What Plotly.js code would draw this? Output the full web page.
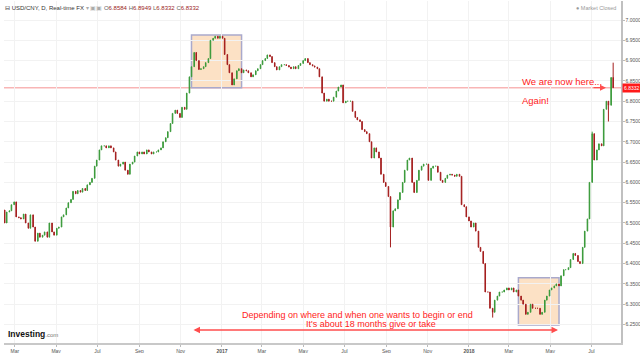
<!DOCTYPE html>
<html><head><meta charset="utf-8">
<script src="https://cdn.plot.ly/plotly-3.0.1.min.js"></script>
<style>html,body{margin:0;padding:0;background:#fff;} #chart{width:640px;height:353px;}</style>
</head><body><div id="chart"></div>
<script>
// Twice-weekly (Mon, Thu) closes of USD/CNY, starting Mon 2016-02-15
const firstWeek = '2016-02-15';
const firstOpen = 6.532;
const closes = [
  6.500, 6.527, 6.530, 6.545, 6.552, 6.515, 6.513, 6.510, 6.522, 6.500,
  6.487, 6.520, 6.490, 6.455, 6.475, 6.465, 6.470, 6.478, 6.465, 6.500,
  6.478, 6.470, 6.487, 6.490, 6.515, 6.520, 6.537, 6.550, 6.558, 6.578,
  6.572, 6.580, 6.576, 6.585, 6.580, 6.594, 6.600, 6.610, 6.640, 6.655,
  6.680, 6.690, 6.690, 6.685, 6.690, 6.685, 6.675, 6.655, 6.640, 6.645,
  6.650, 6.630, 6.620, 6.645, 6.650, 6.665, 6.675, 6.670, 6.675, 6.670,
  6.680, 6.675, 6.670, 6.675, 6.675, 6.680, 6.685, 6.700, 6.710, 6.725,
  6.745, 6.770, 6.778, 6.770, 6.760, 6.785, 6.780, 6.820, 6.860, 6.885,
  6.920, 6.900, 6.878, 6.880, 6.885, 6.895, 6.905, 6.950, 6.955, 6.960,
  6.955, 6.960, 6.955, 6.915, 6.890, 6.870, 6.840, 6.855, 6.875, 6.880,
  6.870, 6.877, 6.875, 6.870, 6.860, 6.865, 6.875, 6.880, 6.890, 6.900,
  6.905, 6.914, 6.910, 6.895, 6.885, 6.877, 6.885, 6.890, 6.890, 6.888,
  6.884, 6.880, 6.885, 6.880, 6.888, 6.893, 6.900, 6.905, 6.895, 6.890,
  6.887, 6.884, 6.880, 6.860, 6.820, 6.800, 6.805, 6.800, 6.800, 6.810,
  6.825, 6.835, 6.840, 6.796, 6.800, 6.800, 6.800, 6.775, 6.760, 6.754,
  6.750, 6.730, 6.725, 6.720, 6.700, 6.660, 6.685, 6.675, 6.660, 6.620,
  6.600, 6.590, 6.565, 6.490, 6.530, 6.535, 6.557, 6.575, 6.600, 6.630,
  6.655, 6.660, 6.600, 6.575, 6.605, 6.630, 6.640, 6.645, 6.645, 6.605,
  6.635, 6.640, 6.640, 6.625, 6.605, 6.600, 6.610, 6.618, 6.620, 6.618,
  6.615, 6.620, 6.615, 6.545, 6.540, 6.515, 6.505, 6.490, 6.500, 6.480,
  6.440, 6.430, 6.400, 6.330, 6.330, 6.290, 6.280, 6.310, 6.320, 6.330,
  6.330, 6.335, 6.340, 6.335, 6.340, 6.330, 6.335, 6.320, 6.310, 6.300,
  6.275, 6.280, 6.300, 6.290, 6.290, 6.290, 6.275, 6.280, 6.310, 6.320,
  6.335, 6.340, 6.345, 6.350, 6.345, 6.370, 6.385, 6.385, 6.390, 6.410,
  6.425, 6.420, 6.405, 6.400, 6.440, 6.480, 6.510, 6.600, 6.720, 6.655,
  6.680, 6.695, 6.690, 6.780, 6.800, 6.790, 6.8584, 6.8332
];
const wickHighs = {'2018-08-02': 6.8949, '2018-07-02': 6.725};
const wickLows = {'2017-09-07': 6.44, '2018-02-05': 6.267, '2018-07-26': 6.75};
const lastPrice = 6.8332;
const yTicks = [7.0, 6.95, 6.9, 6.85, 6.8, 6.75, 6.7, 6.65, 6.6, 6.55, 6.5, 6.45, 6.4, 6.35, 6.3, 6.25];
const xTickDates = ['2016-03-01','2016-05-01','2016-07-01','2016-09-01','2016-11-01','2017-01-01','2017-03-01','2017-05-01','2017-07-01','2017-09-01','2017-11-01','2018-01-01','2018-03-01','2018-05-01','2018-07-01'];
const xTickLabels = ['Mar','May','Jul','Sep','Nov','<b>2017</b>','Mar','May','Jul','Sep','Nov','<b>2018</b>','Mar','May','Jul'];
const box1 = {x0:'2016-11-17', x1:'2017-01-30', y0:6.833, y1:6.963};
const box2 = {x0:'2018-03-15', x1:'2018-05-14', y0:6.249, y1:6.365};

function fmt(d){return d.toISOString().slice(0,10);}
const dates = [];
let d = new Date(firstWeek + 'T00:00:00Z');
for (let i = 0; i < closes.length; i++) {
  dates.push(fmt(d));
  d = new Date(d.getTime() + (i % 2 === 0 ? 3 : 4) * 86400000);
}
const opens = [firstOpen].concat(closes.slice(0, -1));
const highs = closes.map((c, i) => wickHighs[dates[i]] !== undefined ? wickHighs[dates[i]] : Math.max(c, opens[i]));
const lows = closes.map((c, i) => wickLows[dates[i]] !== undefined ? wickLows[dates[i]] : Math.min(c, opens[i]));

const F = 'Liberation Sans, Arial, sans-serif';
const PX = v => (v - 4) / 617;      // pixel x -> paper
const PY = v => (343 - v) / 342;    // pixel y -> paper

const trace = {
  type: 'candlestick', x: dates, open: opens, high: highs, low: lows, close: closes,
  increasing: {line: {color: '#3a9a3a', width: 1}, fillcolor: '#3a9a3a'},
  decreasing: {line: {color: '#a41e1e', width: 1}, fillcolor: '#a41e1e'},
  whiskerwidth: 0, hoverinfo: 'skip', showlegend: false
};

const red = '#ff2222';
const layout = {
  width: 640, height: 353,
  margin: {l: 4, r: 19, t: 1, b: 10},
  paper_bgcolor: '#fff', plot_bgcolor: '#fff', showlegend: false,
  font: {family: F},
  boxgap: 0.6,
  xaxis: {
    type: 'date', range: ['2016-02-14', '2018-08-13 14:00'], rangeslider: {visible: false},
    tickvals: xTickDates, ticktext: xTickLabels, tickfont: {size: 5, color: '#555', family: F},
    showgrid: true, gridcolor: '#f2f2f2', showline: true, linecolor: '#c8c8c8', linewidth: 1.5,
    ticks: 'outside', ticklen: 2, tickcolor: '#bbb', zeroline: false, fixedrange: true, automargin: false
  },
  yaxis: {
    side: 'right', range: [6.2044, 7.0468], tickvals: yTicks, tickformat: '.4f',
    tickfont: {size: 5, color: '#555', family: F}, showgrid: true, gridcolor: '#f2f2f2',
    showline: true, linecolor: '#c0c0c0', linewidth: 1.5, ticks: 'outside', ticklen: 2, tickcolor: '#bbb',
    zeroline: false, automargin: false, fixedrange: true
  },
  shapes: [
    {type: 'rect', xref: 'x', yref: 'y', x0: box1.x0, x1: box1.x1, y0: box1.y0, y1: box1.y1,
     fillcolor: 'rgba(250,200,150,0.55)', line: {color: '#a9a9cc', width: 1.5}, layer: 'below'},
    {type: 'rect', xref: 'x', yref: 'y', x0: box2.x0, x1: box2.x1, y0: box2.y0, y1: box2.y1,
     fillcolor: 'rgba(250,200,150,0.55)', line: {color: '#a9a9cc', width: 1.5}, layer: 'below'},
    {type: 'line', xref: 'paper', yref: 'y', x0: 0, x1: 1, y0: lastPrice, y1: lastPrice,
     line: {color: 'rgba(240,90,90,0.45)', width: 1.5}, layer: 'below'}
  ],
  annotations: [
    {xref: 'paper', yref: 'paper', x: PX(3), y: PY(8), xanchor: 'left', yanchor: 'middle', showarrow: false,
     text: '⊟ USD/CNY, D, Real-time FX <span style="color:#aaa">▾ ▣▣</span> <span style="color:#666">O</span><span style="color:#9b2424">6.8584</span> <span style="color:#666">H</span><span style="color:#9b2424">6.8949</span> <span style="color:#666">L</span><span style="color:#9b2424">6.8332</span> <span style="color:#666">C</span><span style="color:#9b2424">6.8332</span>',
     font: {size: 6, color: '#333', family: F}},
    {xref: 'paper', yref: 'paper', x: PX(618), y: PY(8), xanchor: 'right', yanchor: 'middle', showarrow: false,
     text: '● Market Closed', font: {size: 5.5, color: '#999', family: F}},
    {xref: 'paper', yref: 'paper', x: PX(520), y: PY(82), xanchor: 'left', yanchor: 'middle', showarrow: false,
     text: 'We are now here...', font: {size: 9.5, color: red, family: F}},
    {xref: 'paper', yref: 'paper', x: PX(520), y: PY(100), xanchor: 'left', yanchor: 'middle', showarrow: false,
     text: 'Again!', font: {size: 9.5, color: red, family: F}},
    {xref: 'paper', yref: 'y', x: PX(606), y: lastPrice, ax: -14, ay: 0, showarrow: true, text: '',
     arrowcolor: '#ff4d4d', arrowwidth: 1.2, arrowhead: 2, arrowsize: 1, standoff: 0},
    {xref: 'paper', yref: 'paper', x: PX(357.5), y: PY(314.5), xanchor: 'center', yanchor: 'middle', showarrow: false,
     text: 'Depending on where and when one wants to begin or end', font: {size: 9, color: red, family: F}},
    {xref: 'paper', yref: 'paper', x: PX(371), y: PY(323.5), xanchor: 'center', yanchor: 'middle', showarrow: false,
     text: 'It\'s about 18 months give or take', font: {size: 9, color: red, family: F}},
    {xref: 'paper', yref: 'paper', x: PX(558), y: PY(330), ax: -366, ay: 0, showarrow: true, text: '',
     arrowside: 'end+start', arrowcolor: '#ff4d4d', arrowwidth: 1.3, arrowhead: 2, arrowsize: 1, standoff: 0, startstandoff: 0},
    {xref: 'paper', yref: 'y', x: 1, xshift: 1, y: lastPrice, xanchor: 'left', yanchor: 'middle', showarrow: false,
     text: '6.8332', bgcolor: '#ff1a1a', borderpad: 1, font: {size: 5, color: '#fff', family: F}},
    {xref: 'paper', yref: 'paper', x: PX(6), y: PY(334), xanchor: 'left', yanchor: 'middle', showarrow: false,
     text: '<b>Investing</b><span style="font-size:6px;color:#777">.com</span>', font: {size: 8.5, color: '#111', family: F}}
  ]
};

Plotly.newPlot('chart', [trace], layout, {staticPlot: true, displayModeBar: false});
</script>
</body></html>
